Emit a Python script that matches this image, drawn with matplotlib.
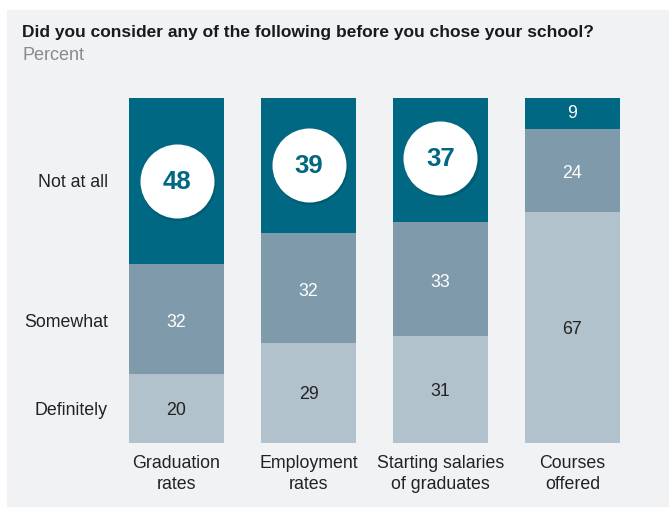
import matplotlib.pyplot as plt
from matplotlib.patches import Rectangle

plt.rcParams['font.family'] = ['Liberation Sans', 'DejaVu Sans']

categories = ['Graduation\nrates', 'Employment\nrates', 'Starting salaries\nof graduates', 'Courses\noffered']
definitely = [20, 29, 31, 67]
somewhat = [32, 32, 33, 24]
not_at_all = [48, 39, 37, 9]
row_labels = ['Definitely', 'Somewhat', 'Not at all']

c_dark = '#006882'
c_mid = '#7f9aaa'
c_light = '#b1c2cc'
bg = '#f1f2f4'

fig = plt.figure(figsize=(6.69, 5.08), dpi=100)
fig.patches.append(Rectangle((7 / 669, 2 / 508), 662 / 669, 496 / 508,
                             transform=fig.transFigure, color=bg, zorder=-10))

fig.text(22 / 669, 1 - 33 / 508, 'Did you consider any of the following before you chose your school?',
         fontsize=12.5, fontweight='bold', va='center', color='#1a1a1a')
fig.text(22 / 669, 1 - 55 / 508, 'Percent', fontsize=13, va='center', color='#8a8a8a')

ax = fig.add_axes([129 / 669, 65 / 508, 491 / 669, 345 / 508])
ax.set_facecolor('none')
x = list(range(len(categories)))
w = 0.72
ax.bar(x, definitely, w, color=c_light)
ax.bar(x, somewhat, w, bottom=definitely, color=c_mid)
bottom3 = [a + b for a, b in zip(definitely, somewhat)]
ax.bar(x, not_at_all, w, bottom=bottom3, color=c_dark)

for i in x:
    d, s, n = definitely[i], somewhat[i], not_at_all[i]
    ax.text(i, d / 2 - 0.5, str(d), ha='center', va='center', fontsize=12.8, color='#222222')
    ax.text(i, d + s / 2 - 1, str(s), ha='center', va='center', fontsize=12.8, color='white')
    yc = d + s + n / 2
    if n >= 30:
        ax.scatter([i + 0.01], [yc - 0.5], s=2920, color='#004e62', alpha=0.45, zorder=3, linewidths=0)
        ax.scatter([i], [yc], s=2840, color='white', zorder=4, linewidths=0)
        ax.text(i, yc - 0.3, str(n), ha='center', va='center', fontsize=18.5, fontweight='bold',
                color=c_dark, zorder=5)
    else:
        ax.text(i, yc, str(n), ha='center', va='center', fontsize=12.8, color='white')

# row labels aligned to first bar's segments
row_y = [definitely[0] / 2 - 0.5, definitely[0] + somewhat[0] / 2 - 1,
         definitely[0] + somewhat[0] + not_at_all[0] / 2 - 0.6]
for lab, yy in zip(row_labels, row_y):
    ax.text(-0.52, yy, lab, ha='right', va='center', fontsize=12.8, color='#222222')

ax.set_xlim(-0.36, 3.36)
ax.set_ylim(0, 100)
ax.set_xticks(x)
ax.set_xticklabels(categories, fontsize=12.8, color='#222222', linespacing=1.3)
ax.tick_params(axis='x', length=0, pad=9)
ax.set_yticks([])
for sp in ax.spines.values():
    sp.set_visible(False)

plt.savefig('out.png', dpi=100)
